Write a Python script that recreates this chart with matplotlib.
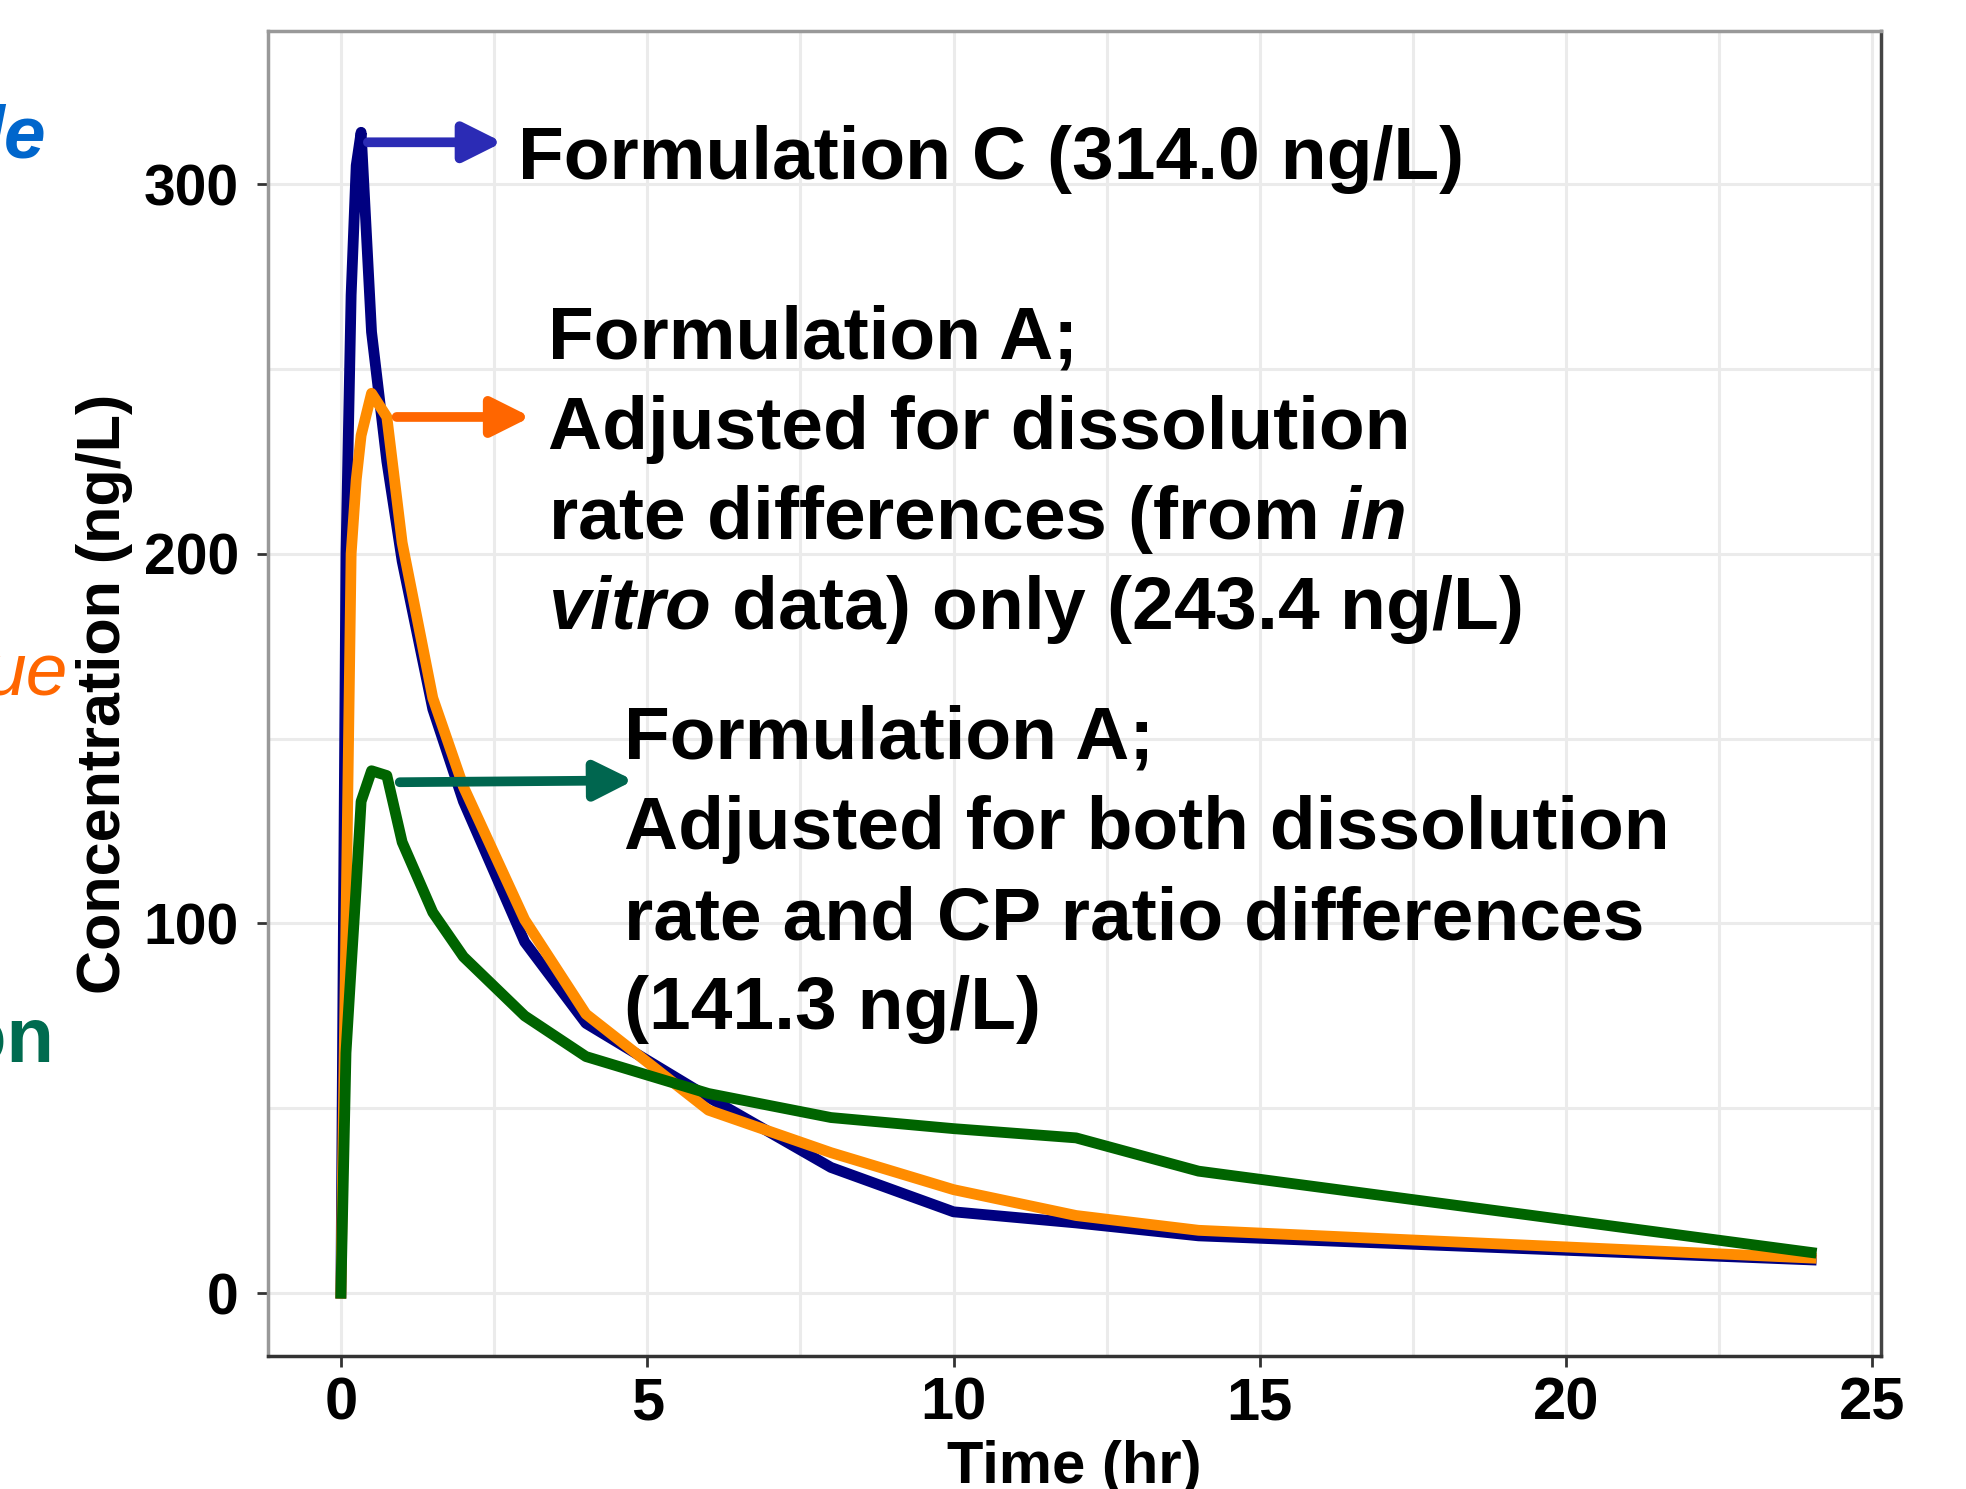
import matplotlib
matplotlib.use("Agg")
import matplotlib.pyplot as plt

plt.rcParams['font.family'] = ['Liberation Sans', 'DejaVu Sans']
plt.rcParams['font.weight'] = 'bold'
plt.rcParams['mathtext.fontset'] = 'custom'
plt.rcParams['mathtext.rm'] = 'Liberation Sans:bold'
plt.rcParams['mathtext.it'] = 'Liberation Sans:italic:bold'
plt.rcParams['mathtext.bf'] = 'Liberation Sans:bold'

# time (hr) and simulated concentrations (ng/L)
time_hr = [0, 0.083, 0.167, 0.25, 0.33, 0.5, 0.75, 1, 1.5, 2, 3, 4, 6, 8, 10, 12, 14, 24]
form_c = [0, 200, 270, 305, 314.0, 260, 225, 198, 158, 133, 95, 73, 53, 34, 22, 19, 15.5, 9]
form_a_diss = [0, 100, 200, 220, 232, 243.4, 237, 203, 161, 137, 101, 75.5, 49.5, 38, 28, 21, 17, 9.5]
form_a_both = [0, 65, 88, 110, 133, 141.3, 140, 122, 103, 91, 75, 64, 54, 47.5, 44.5, 42, 33, 11]

x_ticks = [0, 5, 10, 15, 20, 25]
y_ticks = [0, 100, 200, 300]

W, H = 1966, 1489
fig = plt.figure(figsize=(W / 100, H / 100), dpi=100)
ax = fig.add_axes([268 / W, 1 - 1356 / H, (1881 - 268) / W, (1356 - 31) / H])

ax.plot(time_hr, form_c, color='#000080', lw=7.8, solid_joinstyle='round', zorder=3)
ax.plot(time_hr, form_a_diss, color='#FF8C00', lw=7.8, solid_joinstyle='round', zorder=4)
ax.plot(time_hr, form_a_both, color='#006400', lw=7.8, solid_joinstyle='round', zorder=5)

ax.set_xlim(-1.19, 25.14)
ax.set_ylim(-17, 341.4)
ax.set_xticks(x_ticks)
ax.set_yticks(y_ticks)
ax.set_xticks([2.5, 7.5, 12.5, 17.5, 22.5], minor=True)
ax.set_yticks([50, 150, 250], minor=True)
ax.grid(True, which='both', color='#EBEBEB', lw=2.2, zorder=0)
ax.tick_params(axis='both', which='major', length=8, width=2, color='#333333')
ax.tick_params(axis='x', which='major', labelsize=43, pad=7)
ax.tick_params(axis='y', which='major', labelsize=41, pad=13)
ax.tick_params(which='minor', length=0)
for lab in ax.get_xticklabels() + ax.get_yticklabels():
    lab.set_fontweight('bold')

ax.spines['top'].set_color('#999999')
ax.spines['left'].set_color('#999999')
ax.spines['bottom'].set_color('#333333')
ax.spines['right'].set_color('#444444')
for s in ax.spines.values():
    s.set_linewidth(2.5)

ax.set_xlabel('Time (hr)', fontsize=43, fontweight='bold', labelpad=6)
ax.set_ylabel('Concentration (ng/L)', fontsize=44, fontweight='bold')
ax.yaxis.set_label_coords(-0.084, 0.5)

# arrows pointing at the peaks
def arrow(x0, x1, y0, y1, color):
    ax.annotate('', xy=(x1, y1), xytext=(x0, y0),
                arrowprops=dict(arrowstyle='-|>,head_length=0.4,head_width=0.2',
                                mutation_scale=58, lw=7, color=color,
                                shrinkA=0, shrinkB=0), zorder=6)

arrow(0.44, 2.64, 311.3, 311.3, '#2B2BB5')
arrow(0.91, 3.1, 237, 237, '#FF6600')
arrow(0.96, 4.78, 138.2, 138.7, '#00664F')

def ftext(x, y, s, **kw):
    fig.text(x / W, 1 - y / H, s, **kw)

fs = 54
ftext(518, 179, 'Formulation C (314.0 ng/L)', fontsize=fs, va='baseline')

block2 = ['Formulation A;', 'Adjusted for dissolution',
          r'rate differences (from $\mathit{in}$',
          r'$\mathit{vitro}$ data) only (243.4 ng/L)']
for i, line in enumerate(block2):
    ftext(548, 359 + 90 * i, line, fontsize=fs, va='baseline')

block3 = ['Formulation A;', 'Adjusted for both dissolution',
          'rate and CP ratio differences', '(141.3 ng/L)']
for i, line in enumerate(block3):
    ftext(624, 759 + 90 * i, line, fontsize=fs, va='baseline')

# cut-off slide text on the left edge
ftext(46, 158, 'le', fontsize=54, color='#0066CC', style='italic', ha='right', va='baseline')
ftext(68, 695, 'ue', fontsize=54, color='#FF6600', style='italic', fontweight='normal',
      ha='right', va='baseline')
ftext(54, 1062, 'on', fontsize=56, color='#006B4F', ha='right', va='baseline')

fig.savefig('out.png', dpi=100)
